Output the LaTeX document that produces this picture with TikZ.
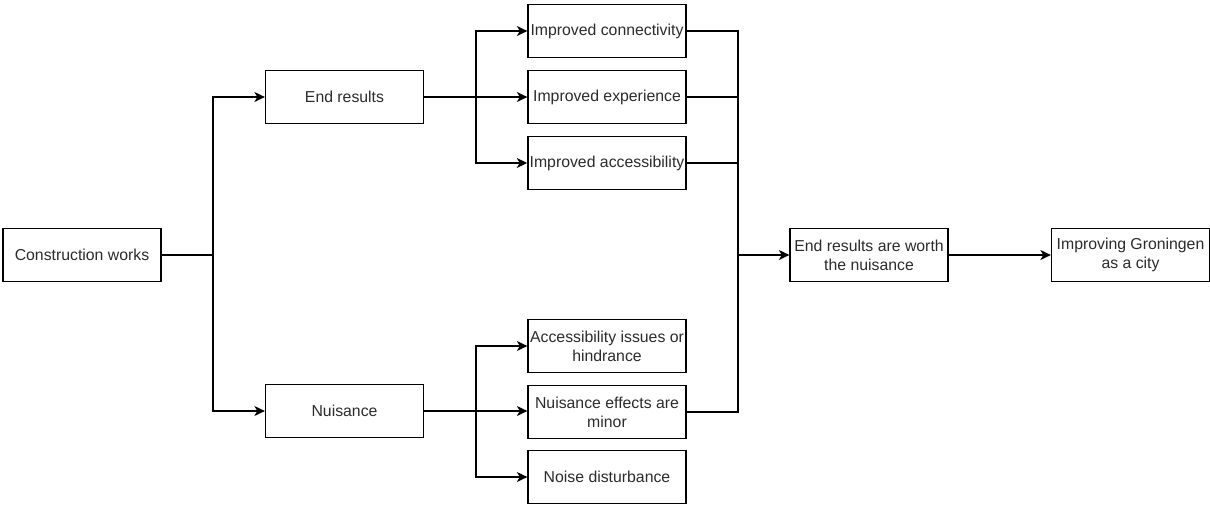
\documentclass[tikz,border=0pt]{standalone}
\usepackage{fontspec}
\setmainfont{Liberation Sans}
\usetikzlibrary{arrows.meta}

\definecolor{boxtext}{HTML}{2B2B2B}

\begin{document}
\begin{tikzpicture}[
    x=0.02cm, y=-0.02cm,
    arr/.style={-{Stealth[length=2.1mm, width=2mm, inset=0.6mm]}, line width=0.75pt},
    lnk/.style={line width=0.75pt},
    box/.style={draw, line width=0.75pt, minimum width=3.16cm, minimum height=1.06cm,
                inner sep=1pt, align=center, text=boxtext,
                font=\fontsize{9}{10.9}\selectfont},
]
\useasboundingbox (0,0) rectangle (1210,504);

% Source
\node[box] (cw) at (82, 255) {Construction works};

% Two branches
\node[box] (er) at (344.5, 97) {End results};
\node[box] (nu) at (344.5, 411) {Nuisance};

% End results effects
\node[box] (ic) at (607, 31) {Improved connectivity};
\node[box] (ie) at (607, 97) {Improved experience};
\node[box] (ia) at (607, 163) {Improved accessibility};

% Nuisance effects
\node[box] (ai) at (607, 346) {Accessibility issues or\\hindrance};
\node[box] (ne) at (607, 412) {Nuisance effects are\\minor};
\node[box] (nd) at (607, 477) {Noise disturbance};

% Conclusion
\node[box] (ew) at (869, 255) {End results are worth\\the nuisance};
\node[box] (ig) at (1130.5, 255) {Improving Groningen\\as a city};

% Junction points
\coordinate (j1) at (213, 255);
\coordinate (j2) at (476, 97);
\coordinate (j3) at (476, 411);
\coordinate (j4) at (738, 255);

\draw[lnk] (cw.east) -- (j1);
\draw[arr] (j1) |- (er.west);
\draw[arr] (j1) |- (nu.west);

\draw[arr] (er.east) -- (ie.west);
\draw[arr] (j2) |- (ic.west);
\draw[arr] (j2) |- (ia.west);

\draw[arr] (nu.east) -- (ne.west |- nu.east);
\draw[arr] (j3) |- (ai.west);
\draw[arr] (j3) |- (nd.west);

% Collector
\draw[lnk] (ic.east) -- (ic.east -| j4) -- (ne.east -| j4) -- (ne.east);
\draw[lnk] (ie.east) -- (ie.east -| j4);
\draw[lnk] (ia.east) -- (ia.east -| j4);
\draw[arr] (j4) -- (ew.west);
\draw[arr] (ew.east) -- (ig.west);

\end{tikzpicture}
\end{document}
